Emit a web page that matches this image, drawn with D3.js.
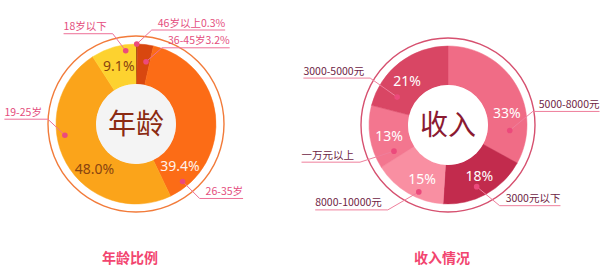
<!DOCTYPE html>
<html>
  <head>
    <meta charset='utf-8'>
    <script src='https://d3js.org/d3.v7.min.js'></script>
    <style>
body { margin: 0; background: #fff; }
text { font-family: 'Noto Sans CJK SC', 'Noto Sans', sans-serif; }
.pct { font-family: 'Noto Sans', 'Liberation Sans', sans-serif; font-size: 14px; }
.lbl { font-size: 10.5px; }
    </style>
  </head>
  <body>
    <svg id='chart' width='600' height='272'></svg>
    <script>
        // age chart data
        const ageCats = ['46岁以上', '36-45岁', '26-35岁', '19-25岁', '18岁以下'];
        const ageVals = [0.3, 3.2, 39.4, 48.0, 9.1];
        const ageColors = ['#8e2d0c', '#d8470f', '#fc6c16', '#fba41a', '#fdd22f'];

        // income chart data
        const incCats = ['5000-8000元', '3000元以下', '8000-10000元', '一万元以上', '3000-5000元'];
        const incVals = [33, 18, 15, 13, 21];
        const incColors = ['#f06c86', '#c22b4d', '#f98fa2', '#f3768f', '#d94664'];

        // where the callouts sit inside each slice (fraction of slice, radius)
        const ageDotFrac = [0.5, 0.7, 0.905, 0.617, 0.756];
        const ageDotR = [80, 63, 74, 72, 74];
        const agePctFrac = [0.5, 0.5, 0.856, 0.397, 0.5];
        const ageLeader = [[15, -14], [16, -14], [17, 17], [-17, -16], [-13, -17]];

        const incDotFrac = [0.8, 0.56, 0.37, 0.14, 0.19];
        const incDotR = [62, 68, 73, 60, 58];
        const incPctFrac = [0.66, 0.46, 0.41, 0.46, 0.43];
        const incLeader = [[23, -19], [23, 19], [-31, 18], [-34, 11], [-27, -19]];

        var svg = d3.select('#chart');

        function drawDonut(opt) {
            var g = svg.append('g')
                .attr('transform', 'translate(' + opt.cx + ',' + opt.cy + ')');

            var pie = d3.pie().sort(null)(opt.values);
            var arc = d3.arc().innerRadius(opt.inner).outerRadius(opt.outer);

            // thin outer ring
            g.append('circle')
                .attr('r', opt.ring)
                .attr('fill', 'none')
                .attr('stroke', opt.ringColor)
                .attr('stroke-width', 1.4);

            g.selectAll('path.slice')
                .data(pie)
                .enter().append('path')
                .attr('class', 'slice')
                .attr('d', arc)
                .attr('fill', function(d, i) { return opt.colors[i]; })
                .attr('stroke', function(d, i) { return opt.colors[i]; })
                .attr('stroke-width', 0.5);

            g.append('circle')
                .attr('r', opt.inner)
                .attr('fill', opt.innerFill);

            g.append('text')
                .attr('text-anchor', 'middle')
                .attr('dy', '0.36em')
                .style('font-size', '28px')
                .attr('fill', opt.titleColor)
                .text(opt.center);

            function polar(d, frac, r) {
                var a = d.startAngle + (d.endAngle - d.startAngle) * frac;
                return [Math.sin(a) * r, -Math.cos(a) * r];
            }

            // percentages inside the big slices
            pie.forEach(function(d, i) {
                if (d.value < 5) return;
                var p = polar(d, opt.pctFrac[i], opt.pctR);
                g.append('text')
                    .attr('class', 'pct')
                    .attr('x', p[0]).attr('y', p[1])
                    .attr('dy', '0.36em')
                    .attr('text-anchor', 'middle')
                    .attr('fill', opt.pctColor(i))
                    .text(opt.fmt(d.value) + '%');
            });

            // callout labels
            pie.forEach(function(d, i) {
                var p = polar(d, opt.dotFrac[i], opt.dotR[i]);
                var e = [p[0] + opt.leader[i][0], p[1] + opt.leader[i][1]];
                var right = opt.leader[i][0] > 0;
                var label = opt.cats[i] + (d.value < 5 ? opt.fmt(d.value) + '%' : '');

                var t = g.append('text')
                    .attr('class', 'lbl')
                    .attr('fill', opt.labelColor)
                    .text(label);
                var w = t.node().getComputedTextLength();
                var endX = right ? e[0] + w + 6 : e[0] - w - 6;
                t.attr('x', endX).attr('y', e[1] - 3.5)
                    .attr('text-anchor', right ? 'end' : 'start');

                g.append('path')
                    .attr('d', d3.line()([p, e, [endX, e[1]]]))
                    .attr('fill', 'none')
                    .attr('stroke', opt.lineColor)
                    .attr('stroke-width', 1);

                g.append('circle')
                    .attr('cx', p[0]).attr('cy', p[1])
                    .attr('r', 2.8)
                    .attr('fill', '#ec4a7c');
            });

            svg.append('text')
                .attr('x', opt.cx - 6).attr('y', 258)
                .attr('text-anchor', 'middle')
                .attr('dy', '0.36em')
                .style('font-size', '14px')
                .style('font-weight', 'bold')
                .attr('fill', '#f2456f')
                .text(opt.title);
        }

        drawDonut({
            cx: 136, cy: 124, inner: 40, outer: 80, ring: 88,
            values: ageVals, cats: ageCats, colors: ageColors,
            ringColor: '#f27b3a', innerFill: '#f4f4f4',
            center: '年龄', titleColor: '#8b2a12', title: '年龄比例',
            fmt: d3.format('.1f'),
            pctR: 61, pctFrac: agePctFrac,
            pctColor: function(i) { return i === 2 ? '#fff2ea' : '#8a4410'; },
            dotFrac: ageDotFrac, dotR: ageDotR, leader: ageLeader,
            labelColor: '#e44d7d', lineColor: '#ee6f97'
        });

        drawDonut({
            cx: 448, cy: 125, inner: 40, outer: 79, ring: 87,
            values: incVals, cats: incCats, colors: incColors,
            ringColor: '#d6506f', innerFill: '#ffffff',
            center: '收入', titleColor: '#8b1a32', title: '收入情况',
            fmt: d3.format('d'),
            pctR: 60, pctFrac: incPctFrac,
            pctColor: function(i) { return '#ffffff'; },
            dotFrac: incDotFrac, dotR: incDotR, leader: incLeader,
            labelColor: '#6e2444', lineColor: '#ef7f9c'
        });
    </script>
  </body>
</html>
